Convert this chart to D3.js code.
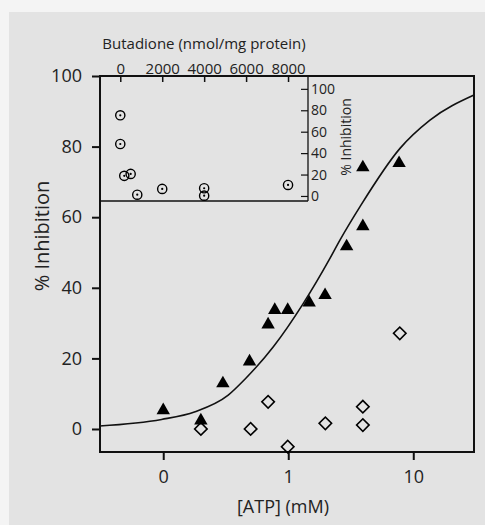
<!DOCTYPE html>
<html><head><meta charset="utf-8">
<script src="https://cdn.jsdelivr.net/npm/d3@7"></script>
<style>
html,body{margin:0;padding:0;background:#f4f4f4;}
text{font-family:"Open Sans",sans-serif;fill:#222;}
</style></head>
<body><div id="chart"></div>
<script>
// ---- Data ----
const atpTri = [0.1, 0.2, 0.3, 0.49, 0.69, 0.78, 0.99, 1.47, 1.97, 2.93, 3.95, 3.95, 7.7];
const inhTri = [5.3, 2.4, 12.9, 19.1, 29.6, 33.7, 33.7, 35.8, 37.9, 51.7, 57.4, 74.1, 75.3];
const atpDia = [0.2, 0.5, 0.69, 0.99, 1.98, 3.95, 3.95, 7.8];
const inhDia = [0.0, 0.0, 7.7, -5.0, 1.6, 6.3, 1.1, 27.1];
const fitX = [0.031, 0.097, 0.18, 0.331, 0.45, 0.76, 1.32, 2.16, 2.59, 3.75, 7.83, 13.6, 30.6];
const fitY = [0.85, 2.7, 4.9, 9.6, 14.1, 23.3, 35.6, 48.4, 53.5, 63.0, 79.5, 87.5, 94.6];
const butX = [0, 0, 190, 495, 810, 2000, 4000, 4000, 8000];
const butY = [75.3, 48.5, 18.8, 20.6, 1.2, 6.6, 7.2, 0.3, 10.3];
const xTickVals = [0.1, 1, 10];
const xTickLabels = ["0", "1", "10"];
const yTicks = [0, 20, 40, 60, 80, 100];
const insetXTicks = [0, 2000, 4000, 6000, 8000];
const insetYTicks = [0, 20, 40, 60, 80, 100];

const W = 485, H = 525;
const svg = d3.select("#chart").append("svg").attr("width", W).attr("height", H);
svg.append("rect").attr("x", 9).attr("y", 12).attr("width", W - 9).attr("height", H - 12).attr("fill", "#e3e3e3");

const L = 100, R = 474, T = 76, B = 452;
const x = d3.scaleLog().domain([0.0312, 30.6]).range([L, R]);
const y = d3.scaleLinear().domain([-6.52, 100]).range([B, T]);

// main box
svg.append("rect").attr("x", L).attr("y", T).attr("width", R - L).attr("height", B - T)
  .attr("fill", "none").attr("stroke", "#111").attr("stroke-width", 2);

// y axis
const yAx = svg.append("g").attr("transform", `translate(${L},0)`)
  .call(d3.axisLeft(y).tickValues(yTicks).tickSize(8).tickPadding(10));
yAx.select(".domain").remove();
yAx.selectAll("line").attr("stroke", "#111").attr("stroke-width", 2);
yAx.selectAll("text").style("font-size", "18px").attr("fill", "#222");

// x axis
const xAx = svg.append("g").attr("transform", `translate(0,${B})`)
  .call(d3.axisBottom(x).tickValues(xTickVals).tickFormat((d, i) => xTickLabels[i]).tickSize(8).tickPadding(10));
xAx.select(".domain").remove();
xAx.selectAll("line").attr("stroke", "#111").attr("stroke-width", 2);
xAx.selectAll("text").style("font-size", "18px").attr("fill", "#222");

svg.append("text").attr("x", 283).attr("y", 513).attr("text-anchor", "middle")
  .style("font-size", "18px").text("[ATP] (mM)");
svg.append("text").attr("transform", "translate(49,236) rotate(-90)").attr("text-anchor", "middle")
  .style("font-size", "20px").text("% Inhibition");

// fit curve
const fit = fitX.map((v, i) => [v, fitY[i]]);
svg.append("path").datum(fit)
  .attr("d", d3.line().x(d => x(d[0])).y(d => y(d[1])).curve(d3.curveMonotoneX))
  .attr("fill", "none").attr("stroke", "#111").attr("stroke-width", 1.6);

// triangles
const tri = d3.symbol().type(d3.symbolTriangle).size(78);
svg.append("g").selectAll("path").data(atpTri.map((v, i) => [v, inhTri[i]])).join("path")
  .attr("d", tri).attr("transform", d => `translate(${x(d[0])},${y(d[1])})`).attr("fill", "#000");

// diamonds
const dia = d3.symbol().type(d3.symbolSquare).size(78);
svg.append("g").selectAll("path").data(atpDia.map((v, i) => [v, inhDia[i]])).join("path")
  .attr("d", dia).attr("transform", d => `translate(${x(d[0])},${y(d[1])}) rotate(45)`)
  .attr("fill", "none").attr("stroke", "#000").attr("stroke-width", 1.6);

// ---- inset ----
const iL = 100, iR = 308, iT = 76, iB = 201;
const ix = d3.scaleLinear().domain([-967, 8952]).range([iL, iR]);
const iy = d3.scaleLinear().domain([-4.7, 112]).range([iB, iT]);
svg.append("rect").attr("x", iL + 1).attr("y", iT + 1).attr("width", iR - iL - 1).attr("height", iB - iT - 1).attr("fill", "#e3e3e3");
svg.append("line").attr("x1", iL).attr("x2", iR).attr("y1", iB).attr("y2", iB).attr("stroke", "#111").attr("stroke-width", 1.3);
svg.append("line").attr("x1", iR).attr("x2", iR).attr("y1", iT).attr("y2", iB).attr("stroke", "#111").attr("stroke-width", 1.3);
svg.append("line").attr("x1", L).attr("x2", R).attr("y1", T).attr("y2", T).attr("stroke", "#111").attr("stroke-width", 2);

const ixAx = svg.append("g").attr("transform", `translate(0,${iT})`)
  .call(d3.axisTop(ix).tickValues(insetXTicks).tickFormat(d3.format("d")).tickSizeInner(-6).tickSizeOuter(0).tickPadding(2));
ixAx.select(".domain").remove();
ixAx.selectAll("line").attr("stroke", "#111").attr("stroke-width", 1.5);
ixAx.selectAll("text").style("font-size", "15px").attr("fill", "#222").attr("dy", "0");

const iyAx = svg.append("g").attr("transform", `translate(${iR},0)`)
  .call(d3.axisRight(iy).tickValues(insetYTicks).tickSizeInner(-7).tickSizeOuter(0).tickPadding(3));
iyAx.select(".domain").remove();
iyAx.selectAll("line").attr("stroke", "#111").attr("stroke-width", 1.2);
iyAx.selectAll("text").style("font-size", "14px").attr("fill", "#222");

svg.append("text").attr("x", 204).attr("y", 49).attr("text-anchor", "middle")
  .style("font-size", "15px").text("Butadione (nmol/mg protein)");
svg.append("text").attr("transform", "translate(351,137) rotate(-90)").attr("text-anchor", "middle")
  .style("font-size", "14px").text("% Inhibition");

const bg = svg.append("g").selectAll("g").data(butX.map((v, i) => [v, butY[i]])).join("g")
  .attr("transform", d => `translate(${ix(d[0])},${iy(d[1])})`);
bg.append("circle").attr("r", 4.6).attr("fill", "none").attr("stroke", "#000").attr("stroke-width", 1.4);
bg.append("circle").attr("r", 1.1).attr("fill", "#000");
</script></body></html>
